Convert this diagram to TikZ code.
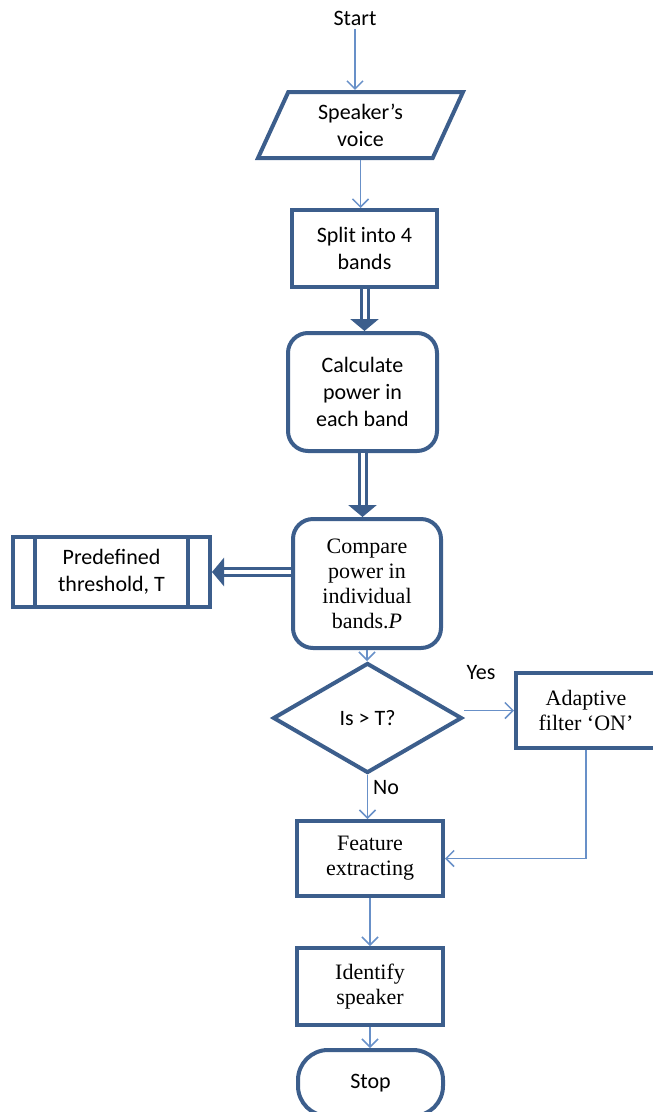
\documentclass[tikz,border=0pt]{standalone}
\usepackage{fontspec}
\setmainfont{Liberation Serif}
\newfontfamily\calibri{Carlito}
\usetikzlibrary{shapes.geometric,arrows.meta}
\definecolor{boxblue}{RGB}{60,94,140}
\definecolor{arrowblue}{RGB}{104,144,200}

\begin{document}
\begin{tikzpicture}[x=1pt,y=-1pt,
        box/.style={draw=boxblue, line width=4pt, fill=white, align=center, inner sep=2pt},
        sans/.style={font=\calibri\fontsize{22}{27}\selectfont},
        serif/.style={font=\fontsize{22}{25}\selectfont},
        arr/.style={draw=arrowblue, line width=1.5pt, -{Straight Barb[length=8pt,width=16pt]}},
        dbl/.style={draw=boxblue, line width=3pt, double=white, double distance=4pt, -{Triangle[length=12pt,width=28pt]}}]
    % Page frame
    \clip (0,0) rectangle (653,1112);
    
    % Main column
    \node[sans] (start) at (355,18) {Start};
    \node[box, sans, trapezium, trapezium left angle=57, trapezium right angle=123, trapezium stretches body, minimum width=205pt, minimum height=66pt] (voice) at (360.5,125) {Speaker’s\\voice};
    \node[box, sans, minimum width=145pt, minimum height=77pt] (split) at (364.5,248.5) {Split into 4\\bands};
    \node[box, sans, rounded corners=20pt, minimum width=149pt, minimum height=118pt] (calc) at (362.5,392) {Calculate\\power in\\each band};
    \node[box, serif, rounded corners=20pt, minimum width=148pt, minimum height=129pt] (comp) at (367,583.5) {Compare\\power in\\individual\\bands.\textit{P}};
    \node[box, sans, diamond, aspect=1.7, inner sep=0pt, minimum width=189pt, minimum height=110pt] (dec) at (367.5,718) {Is > T?};
    \node[box, serif, minimum width=146pt, minimum height=75pt] (feat) at (370,858.5) {Feature\\extracting};
    \node[box, serif, minimum width=146pt, minimum height=77pt] (ident) at (370,986.5) {Identify\\speaker};
    \node[box, sans, rounded corners=30pt, minimum width=145pt, minimum height=66pt] (stop) at (370.5,1083) {Stop};
    
    % Side boxes
    \node[box, sans, minimum width=197pt, minimum height=70pt] (thr) at (111.5,572) {Predefined\\threshold, T};
    \draw[boxblue, line width=3.5pt] ([xshift=24pt]thr.north west) -- ([xshift=24pt]thr.south west);
    \draw[boxblue, line width=3.5pt] ([xshift=-24pt]thr.north east) -- ([xshift=-24pt]thr.south east);
    \node[box, serif, minimum width=140pt, minimum height=75pt] (adapt) at (586,710.5) {Adaptive\\filter ‘ON’};
    
    % Branch labels
    \node[sans] (yes) at (481,673) {Yes};
    \node[sans] (no) at (386,788) {No};
    
    % Thin arrows
    \draw[arr] (start.south) -- (start.south |- voice.north);
    \draw[arr] (voice.south) -- (voice.south |- split.north);
    \draw[arr] (comp.south) -- (comp.south |- dec.north);
    \draw[arr] (dec.east |- adapt.west) -- (adapt.west);
    \draw[arr] (dec.south) -- (dec.south |- feat.north);
    \draw[arr] (adapt.south) |- (feat.east);
    \draw[arr] (feat.south) -- (feat.south |- ident.north);
    \draw[arr] (ident.south) -- (ident.south |- stop.north);
    
    % Double arrows
    \draw[dbl] (split.south) -- (split.south |- calc.north);
    \draw[dbl] (calc.south) -- (calc.south |- comp.north);
    \draw[dbl] (comp.west |- thr.east) -- (thr.east);
\end{tikzpicture}
\end{document}
